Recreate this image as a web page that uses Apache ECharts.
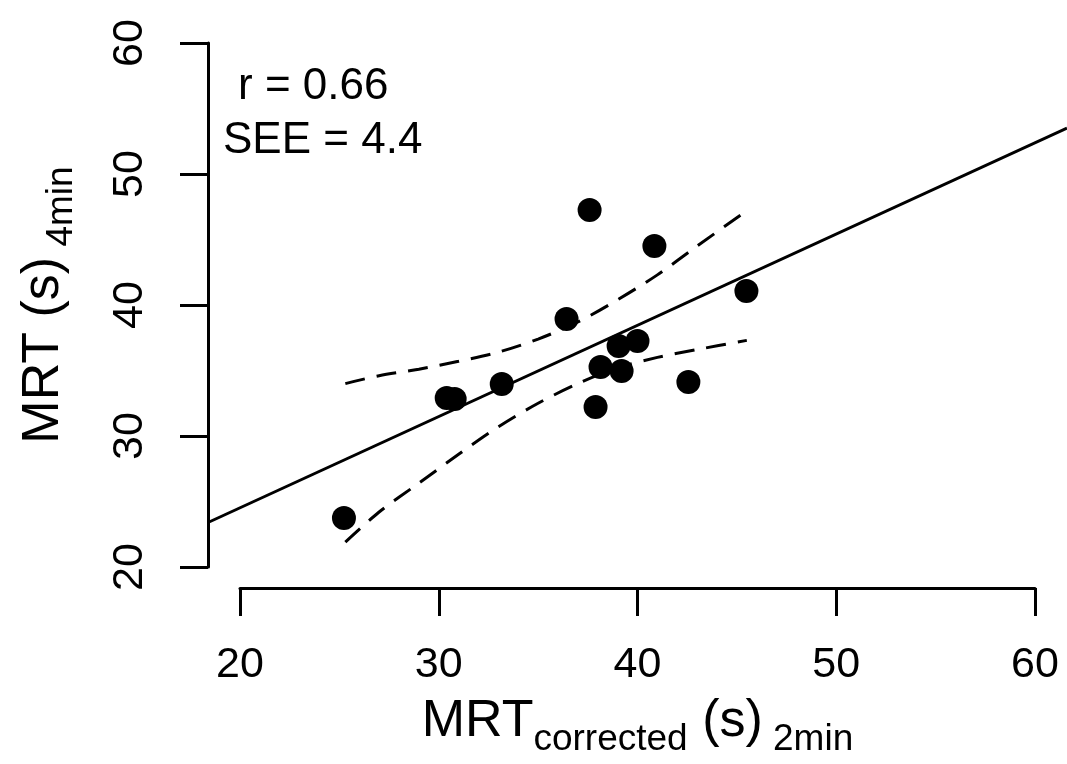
<!DOCTYPE html>
<html>
<head>
<meta charset="utf-8">
<script src="https://cdn.jsdelivr.net/npm/echarts@6/dist/echarts.min.js"></script>
<style>
  html, body { margin: 0; padding: 0; background: #fff; }
  #chart { width: 1067px; height: 764px; }
</style>
</head>
<body>
<div id="chart"></div>
<script>
// observed points: MRT corrected 2min (x) vs MRT 4min (y)
var xObs = [37.59, 40.85, 45.48, 36.43, 39.05, 40.00, 38.14, 39.20, 42.56, 33.17, 30.40, 30.80, 37.89, 25.23];
var yObs = [47.25, 44.50, 41.07, 38.93, 36.87, 37.25, 35.27, 34.96, 34.12, 33.97, 32.90, 32.82, 32.21, 23.74];
// regression line, read at the plot region edges
var fitX = [18.4, 61.6];
var fitY = [23.4, 53.5];
// dashed confidence bands
var bandX     = [25.3, 27, 29, 31, 33, 35, 37, 39, 41, 43, 45.5];
var bandUpper = [34.0, 34.6, 35.1, 35.7, 36.4, 37.4, 38.7, 40.4, 42.3, 44.5, 47.2];
var bandLower = [21.9, 24.2, 26.4, 28.6, 30.7, 32.5, 34.0, 35.2, 36.0, 36.6, 37.3];
var statLines = ['r = 0.66', 'SEE = 4.4'];

var FONT = '"Liberation Sans", Arial, Helvetica, sans-serif';
var LW = 3;

function zip(a, b) {
  return a.map(function (v, i) { return [v, b[i]]; });
}

var richTitle = {
  m: { fontSize: 52, fontFamily: FONT, color: '#000', verticalAlign: 'bottom', padding: [0, 0, 10, 0] },
  s: { fontSize: 37, fontFamily: FONT, color: '#000', verticalAlign: 'bottom' }
};

var chart = echarts.init(document.getElementById('chart'));
chart.setOption({
  backgroundColor: '#fff',
  animation: false,
  grid: [
    { left: 240, right: 32, top: 43, bottom: 197 },
    // full plot region (R adds 4% each side) for the abline
    { left: 208, right: 0, top: 22, bottom: 176 }
  ],
  xAxis: [{
    type: 'value', min: 20, max: 60, interval: 10, offset: 21, gridIndex: 0,
    axisLine: { show: true, lineStyle: { color: '#000', width: LW } },
    axisTick: { show: true, length: 28, lineStyle: { color: '#000', width: LW } },
    axisLabel: { fontSize: 43, color: '#000', fontFamily: FONT, margin: 56 },
    splitLine: { show: false },
    name: '{m|MRT}{s|corrected}{m| (s)}{s| 2min}',
    nameLocation: 'middle', nameGap: 108,
    nameTextStyle: { fontFamily: FONT, color: '#000', rich: richTitle }
  }, {
    type: 'value', min: 18.4, max: 61.6, gridIndex: 1, show: false
  }],
  yAxis: [{
    type: 'value', min: 20, max: 60, interval: 10, offset: 32, gridIndex: 0,
    axisLine: { show: true, lineStyle: { color: '#000', width: LW } },
    axisTick: { show: true, length: 28, lineStyle: { color: '#000', width: LW } },
    axisLabel: { fontSize: 43, color: '#000', fontFamily: FONT, rotate: 90, margin: 56 },
    splitLine: { show: false },
    name: '{m|MRT (s)}{s| 4min}',
    nameLocation: 'middle', nameGap: 128,
    nameTextStyle: { fontFamily: FONT, color: '#000', rich: richTitle }
  }, {
    type: 'value', min: 18.4, max: 61.6, gridIndex: 1, show: false
  }],
  graphic: [
    { type: 'text', left: 238, top: 65, style: { text: statLines[0], font: '44px ' + FONT, fill: '#000' } },
    { type: 'text', left: 223, top: 119, style: { text: statLines[1], font: '44px ' + FONT, fill: '#000' } }
  ],
  series: [
    {
      type: 'line', data: zip(fitX, fitY), showSymbol: false,
      xAxisIndex: 1, yAxisIndex: 1,
      lineStyle: { color: '#000', width: LW }, z: 3
    },
    {
      type: 'line', data: zip(bandX, bandUpper), showSymbol: false, smooth: 0.3,
      lineStyle: { color: '#000', width: LW, type: [20, 12] }, z: 3
    },
    {
      type: 'line', data: zip(bandX, bandLower), showSymbol: false, smooth: 0.3,
      lineStyle: { color: '#000', width: LW, type: [20, 12] }, z: 3
    },
    {
      type: 'scatter', data: zip(xObs, yObs), symbol: 'circle', symbolSize: 24,
      itemStyle: { color: '#000', opacity: 1 }, z: 4
    }
  ]
});
</script>
</body>
</html>
